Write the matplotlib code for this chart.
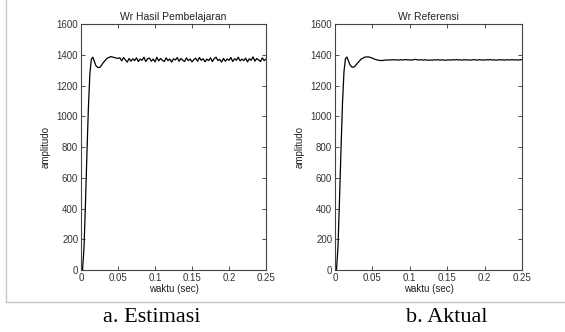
import matplotlib
matplotlib.use("Agg")
import matplotlib.pyplot as plt
from matplotlib.lines import Line2D

# waktu (sec) dan amplitudo
t_rise = [0.0, 0.002, 0.004, 0.006, 0.008, 0.010, 0.012, 0.014, 0.016, 0.018,
          0.020, 0.023, 0.026, 0.030, 0.035, 0.040, 0.045, 0.050]

ref_rise = [0, 0, 150, 450, 780, 1080, 1290, 1375, 1385, 1360,
            1335, 1318, 1322, 1345, 1372, 1385, 1386, 1378]
est_rise = [0, 0, 140, 430, 760, 1060, 1280, 1372, 1384, 1358,
            1330, 1316, 1320, 1348, 1376, 1388, 1382, 1376]

t_tail = [0.0525 + 0.0025 * i for i in range(80)]

ref_tail = [1372, 1368, 1365, 1363, 1362, 1364, 1366, 1365, 1367, 1366,
            1368, 1366, 1367, 1365, 1368, 1366, 1367, 1369, 1366, 1367,
            1365, 1368, 1370, 1367, 1366, 1368, 1365, 1367, 1366, 1364,
            1366, 1365, 1367, 1366, 1368, 1365, 1367, 1366, 1364, 1366,
            1367, 1365, 1368, 1366, 1369, 1366, 1367, 1365, 1368, 1366,
            1367, 1365, 1366, 1368, 1367, 1365, 1368, 1366, 1367, 1365,
            1368, 1366, 1369, 1366, 1367, 1365, 1366, 1368, 1366, 1367,
            1365, 1368, 1366, 1367, 1368, 1366, 1367, 1365, 1368, 1367]
est_tail = [1380, 1360, 1382, 1366, 1352, 1376, 1358, 1374, 1362, 1380,
            1356, 1372, 1364, 1384, 1356, 1374, 1378, 1358, 1372, 1354,
            1384, 1360, 1376, 1364, 1356, 1380, 1362, 1372, 1352, 1374,
            1366, 1382, 1358, 1376, 1364, 1356, 1380, 1362, 1372, 1354,
            1368, 1378, 1358, 1382, 1364, 1374, 1354, 1372, 1362, 1380,
            1356, 1374, 1384, 1362, 1370, 1352, 1376, 1358, 1372, 1364,
            1382, 1356, 1374, 1364, 1384, 1360, 1372, 1362, 1378, 1354,
            1374, 1364, 1386, 1358, 1376, 1366, 1356, 1380, 1362, 1372]

t = t_rise + t_tail
est = est_rise + est_tail
ref = ref_rise + ref_tail

titles = ["Wr Hasil Pembelajaran", "Wr Referensi"]
captions = ["a. Estimasi", "b. Aktual"]
x_ticks = [0, 0.05, 0.1, 0.15, 0.2, 0.25]
x_labels = ["0", "0.05", "0.1", "0.15", "0.2", "0.25"]
y_ticks = [0, 200, 400, 600, 800, 1000, 1200, 1400, 1600]

plt.rcParams["font.family"] = ["Liberation Sans", "DejaVu Sans"]

fig = plt.figure(figsize=(5.65, 3.32), dpi=100)

positions = [[0.1434, 0.1867, 0.3274, 0.741], [0.5929, 0.1867, 0.331, 0.741]]
series = [est, ref]
caption_x = [0.268, 0.79]

for pos, y, title, cap, cx in zip(positions, series, titles, captions, caption_x):
    ax = fig.add_axes(pos)
    ax.plot(t, y, color="black", linewidth=0.9)
    ax.set_xlim(0, 0.25)
    ax.set_ylim(0, 1600)
    ax.set_xticks(x_ticks)
    ax.set_xticklabels(x_labels)
    ax.set_yticks(y_ticks)
    ax.tick_params(direction="in", length=3, width=0.6, labelsize=7,
                   top=True, right=True, colors="#333333", pad=2)
    for s in ax.spines.values():
        s.set_linewidth(0.8)
        s.set_color("#444444")
    ax.set_title(title, fontsize=7.5, pad=3, color="#222222")
    ax.set_xlabel("waktu (sec)", fontsize=7, labelpad=1, color="#222222")
    ax.set_ylabel("amplitudo", fontsize=7, labelpad=4, color="#222222")
    fig.text(cx, 0.045, cap, family="Liberation Serif", fontsize=16,
             ha="center", va="center")

# bingkai abu-abu
fig.add_artist(Line2D([0.0106, 0.0106], [0.09, 1.0], color="#c8c8c8",
                      linewidth=1, transform=fig.transFigure))
fig.add_artist(Line2D([0.0106, 1.0], [0.09, 0.09], color="#c8c8c8",
                      linewidth=1, transform=fig.transFigure))

fig.savefig("out.png", dpi=100)
